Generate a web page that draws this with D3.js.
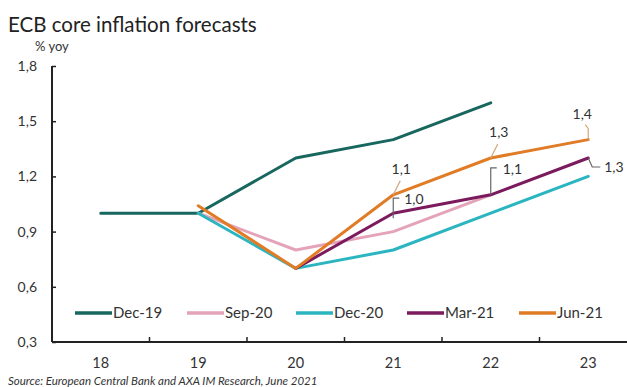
<!DOCTYPE html>
<html>
<head>
<meta charset="utf-8">
<script src="https://cdn.jsdelivr.net/npm/d3@7/dist/d3.min.js"></script>
<style>
  html, body { margin: 0; padding: 0; background: #fff; }
  svg { display: block; font-family: Lato, "Open Sans", sans-serif; }
</style>
</head>
<body>
<svg id="chart" width="627" height="387"></svg>
<script>
// Forecast years (x categories)
const years = ["18", "19", "20", "21", "22", "23"];
const yTicks = [0.3, 0.6, 0.9, 1.2, 1.5, 1.8];

// Each ECB projection vintage: value per year, null where not published
const vintages = ["Dec-19", "Sep-20", "Dec-20", "Mar-21", "Jun-21"];
const dec19 = [1.0, 1.0, 1.3, 1.4, 1.6, null];
const sep20 = [null, 1.0, 0.8, 0.9, 1.1, null];
const dec20 = [null, 1.0, 0.7, 0.8, 1.0, 1.2];
const mar21 = [null, null, 0.7, 1.0, 1.1, 1.3];
const jun21 = [null, 1.04, 0.7, 1.1, 1.3, 1.4];
const colors = ["#17675f", "#e4a3b8", "#2bb5c0", "#7b1a5c", "#e07b26"];

// Value labels: series index, year, label text
const labels = [
  { s: 4, year: "21", text: "1,1" },
  { s: 3, year: "21", text: "1,0" },
  { s: 4, year: "22", text: "1,3" },
  { s: 3, year: "22", text: "1,1" },
  { s: 4, year: "23", text: "1,4" },
  { s: 3, year: "23", text: "1,3" }
];

const seriesValues = [dec19, sep20, dec20, mar21, jun21];
const series = vintages.map((name, i) => ({
  name,
  color: colors[i],
  points: years.map((yr, j) => ({ year: yr, value: seriesValues[i][j] }))
                .filter(p => p.value !== null)
}));

const svg = d3.select("#chart");
const plotLeft = 52, plotTop = 66, plotBottom = 342;
const bandW = 97.5;

const x = d3.scaleBand().domain(years).range([plotLeft, plotLeft + bandW * years.length]).padding(0);
const y = d3.scaleLinear().domain([0.3, 1.8]).range([plotBottom, plotTop]);
const cx = yr => x(yr) + x.bandwidth() / 2;

// Title and unit
svg.append("text").attr("x", 8).attr("y", 32)
  .attr("font-size", 20.5).attr("fill", "#222").text("ECB core inflation forecasts");
svg.append("text").attr("x", 35).attr("y", 51)
  .attr("font-size", 13).attr("fill", "#333").text("% yoy");

// Y axis, ticks pointing into the plot
const yAxis = svg.append("g").attr("transform", `translate(${plotLeft},0)`)
  .call(d3.axisRight(y).tickValues(yTicks).tickSize(4)
    .tickFormat(d => d3.format(".1f")(d).replace(".", ",")));
yAxis.select(".domain").attr("stroke", "#222").attr("stroke-width", 2)
  .attr("d", `M0,${plotTop}V${plotBottom}`);
yAxis.selectAll(".tick line").attr("stroke", "#222").attr("stroke-width", 1.5);
yAxis.selectAll(".tick text").attr("x", -15).attr("text-anchor", "end")
  .attr("font-size", 14).attr("fill", "#333").attr("font-family", "Lato, sans-serif");

// X axis: ticks on category boundaries, labels centred in each band
const xAxisG = svg.append("g").attr("transform", `translate(0,${plotBottom})`);
xAxisG.append("line").attr("x1", plotLeft).attr("x2", 627)
  .attr("stroke", "#222").attr("stroke-width", 2);
xAxisG.selectAll("line.tick").data(years.slice(1)).join("line")
  .attr("class", "tick")
  .attr("x1", d => x(d)).attr("x2", d => x(d))
  .attr("y1", 0).attr("y2", -5)
  .attr("stroke", "#222").attr("stroke-width", 1.5);
xAxisG.selectAll("text").data(years).join("text")
  .attr("x", d => cx(d)).attr("y", 26)
  .attr("text-anchor", "middle").attr("font-size", 14.5).attr("fill", "#333")
  .text(d => d);

// Lines
const line = d3.line().x(d => cx(d.year)).y(d => y(d.value));
svg.append("g").selectAll("path").data(series).join("path")
  .attr("d", d => line(d.points))
  .attr("fill", "none")
  .attr("stroke", d => d.color)
  .attr("stroke-width", 3)
  .attr("stroke-linejoin", "round")
  .attr("stroke-linecap", "round");

// Value labels with leader lines
const valueOf = (s, yr) => seriesValues[s][years.indexOf(yr)];
const labelG = svg.append("g").attr("font-size", 14).attr("fill", "#333");
labels.forEach(l => {
  const px = cx(l.year), py = y(valueOf(l.s, l.year));
  const orange = l.s === 4;
  const lead = orange ? "#d2a77c" : "#666";
  let path, tx, ty, anchor = "start";
  if (orange && l.year === "23") {
    path = `M${px},${py}V${py - 11}L${px - 3},${py - 15}`;
    tx = px - 6; ty = py - 21; anchor = "middle";
  } else if (orange) {
    path = `M${px},${py}L${px + 7},${py - 14}`;
    tx = px + 8; ty = py - 21; anchor = "middle";
  } else if (l.year === "23") {
    path = `M${px},${py}L${px + 4},${py + 9}H${px + 12}`;
    tx = px + 16; ty = py + 14;
  } else if (l.year === "21") {
    path = `M${px},${py + 5}V${py - 15}H${px + 6}`;
    tx = px + 11; ty = py - 9;
  } else {
    path = `M${px},${py}V${py - 27}H${px + 6}`;
    tx = px + 12; ty = py - 21;
  }
  labelG.append("path").attr("d", path).attr("fill", "none")
    .attr("stroke", lead).attr("stroke-width", 1.2);
  labelG.append("text").attr("x", tx).attr("y", ty)
    .attr("text-anchor", anchor).text(l.text);
});

// Legend
const legendX = [75, 187, 296, 407, 519];
const legend = svg.append("g").attr("font-size", 15).attr("fill", "#333");
series.forEach((s, i) => {
  const g = legend.append("g").attr("transform", `translate(${legendX[i]},313)`);
  g.append("line").attr("x1", 0).attr("x2", 37).attr("stroke", s.color).attr("stroke-width", 3.5);
  g.append("text").attr("x", 38).attr("y", 5).text(s.name);
});

// Source note
svg.append("text").attr("x", 8).attr("y", 384.5)
  .attr("font-size", 11.5).attr("font-style", "italic").attr("fill", "#333")
  .text("Source: European Central Bank and AXA IM Research, June 2021");
</script>
</body>
</html>
